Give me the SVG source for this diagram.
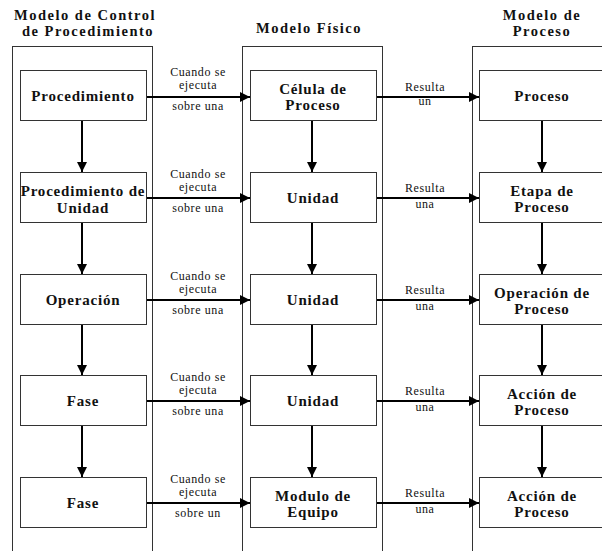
<svg xmlns="http://www.w3.org/2000/svg" width="602" height="551" viewBox="0 0 602 551">
<style>
.bg{fill:#fff}
.cont{fill:none;stroke:#333;stroke-width:1}
.box{fill:#fff;stroke:#333;stroke-width:1}
.title{font-family:'Liberation Serif','DejaVu Serif',serif;font-weight:bold;font-size:14.5px;letter-spacing:1.5px;fill:#111;text-anchor:middle}
.node{font-family:'Liberation Serif','DejaVu Serif',serif;font-weight:bold;font-size:15px;letter-spacing:0.8px;fill:#111;text-anchor:middle}
.lbl{font-family:'Liberation Serif','DejaVu Serif',serif;font-size:12px;letter-spacing:0.6px;fill:#111;text-anchor:middle}
.arr{stroke:#000;stroke-width:2;fill:none}
</style>
<defs>
<marker id="ah" viewBox="0 0 10 10" refX="10" refY="5" markerWidth="10" markerHeight="10" markerUnits="userSpaceOnUse" orient="auto">
<path d="M0,0 L10,5 L0,10 Z" fill="#000"/>
</marker>
</defs>
<rect class="bg" x="0" y="0" width="602" height="551"/>

<g id="containers">
<rect class="cont" x="12.5" y="46.5" width="140" height="520"/>
<rect class="cont" x="242.5" y="46.5" width="140" height="520"/>
<rect class="cont" x="472.5" y="46.5" width="140" height="520"/>
</g>

<g id="titles">
<text class="title" x="85" y="20">Modelo de Control</text>
<text class="title" x="88" y="36">de Procedimiento</text>
<text class="title" x="309" y="33">Modelo Físico</text>
<text class="title" x="542" y="20">Modelo de</text>
<text class="title" x="542" y="36">Proceso</text>
</g>

<g id="connectors">
<line class="arr" x1="82" y1="120" x2="82" y2="172" marker-end="url(#ah)"/>
<line class="arr" x1="82" y1="222" x2="82" y2="274" marker-end="url(#ah)"/>
<line class="arr" x1="82" y1="324" x2="82" y2="375" marker-end="url(#ah)"/>
<line class="arr" x1="82" y1="425" x2="82" y2="477" marker-end="url(#ah)"/>
<line class="arr" x1="312" y1="120" x2="312" y2="172" marker-end="url(#ah)"/>
<line class="arr" x1="312" y1="222" x2="312" y2="274" marker-end="url(#ah)"/>
<line class="arr" x1="312" y1="324" x2="312" y2="375" marker-end="url(#ah)"/>
<line class="arr" x1="312" y1="425" x2="312" y2="477" marker-end="url(#ah)"/>
<line class="arr" x1="542" y1="120" x2="542" y2="172" marker-end="url(#ah)"/>
<line class="arr" x1="542" y1="222" x2="542" y2="274" marker-end="url(#ah)"/>
<line class="arr" x1="542" y1="324" x2="542" y2="375" marker-end="url(#ah)"/>
<line class="arr" x1="542" y1="425" x2="542" y2="477" marker-end="url(#ah)"/>

<line class="arr" x1="146" y1="97" x2="250" y2="97" marker-end="url(#ah)"/>
<line class="arr" x1="146" y1="198" x2="250" y2="198" marker-end="url(#ah)"/>
<line class="arr" x1="146" y1="300" x2="250" y2="300" marker-end="url(#ah)"/>
<line class="arr" x1="146" y1="401" x2="250" y2="401" marker-end="url(#ah)"/>
<line class="arr" x1="146" y1="503" x2="250" y2="503" marker-end="url(#ah)"/>
<line class="arr" x1="377" y1="97" x2="479" y2="97" marker-end="url(#ah)"/>
<line class="arr" x1="377" y1="198" x2="479" y2="198" marker-end="url(#ah)"/>
<line class="arr" x1="377" y1="300" x2="479" y2="300" marker-end="url(#ah)"/>
<line class="arr" x1="377" y1="401" x2="479" y2="401" marker-end="url(#ah)"/>
<line class="arr" x1="377" y1="503" x2="479" y2="503" marker-end="url(#ah)"/>

<g id="labels-left">
<text class="lbl" x="198" y="76">Cuando se</text>
<text class="lbl" x="198" y="89">ejecuta</text>
<text class="lbl" x="198" y="110">sobre una</text>
<text class="lbl" x="198" y="178">Cuando se</text>
<text class="lbl" x="198" y="191">ejecuta</text>
<text class="lbl" x="198" y="212">sobre una</text>
<text class="lbl" x="198" y="280">Cuando se</text>
<text class="lbl" x="198" y="293">ejecuta</text>
<text class="lbl" x="198" y="314">sobre una</text>
<text class="lbl" x="198" y="381">Cuando se</text>
<text class="lbl" x="198" y="394">ejecuta</text>
<text class="lbl" x="198" y="415">sobre una</text>
<text class="lbl" x="198" y="483">Cuando se</text>
<text class="lbl" x="198" y="496">ejecuta</text>
<text class="lbl" x="198" y="517">sobre un</text>
</g>
<g id="labels-right">
<text class="lbl" x="425" y="91">Resulta</text>
<text class="lbl" x="425" y="105">un</text>
<text class="lbl" x="425" y="192">Resulta</text>
<text class="lbl" x="425" y="208">una</text>
<text class="lbl" x="425" y="294">Resulta</text>
<text class="lbl" x="425" y="310">una</text>
<text class="lbl" x="425" y="395">Resulta</text>
<text class="lbl" x="425" y="411">una</text>
<text class="lbl" x="425" y="497">Resulta</text>
<text class="lbl" x="425" y="513">una</text>
</g>
</g>

<g id="n-procedimiento"><rect class="box" x="20.5" y="70.5" width="126" height="50"/><text class="node" x="83" y="100.5">Procedimiento</text></g>
<g id="n-proc-unidad"><rect class="box" x="20.5" y="172.5" width="126" height="50"/><text class="node" x="83" y="196">Procedimiento de</text><text class="node" x="83" y="212.5">Unidad</text></g>
<g id="n-operacion"><rect class="box" x="20.5" y="274.5" width="126" height="50"/><text class="node" x="83" y="304.5">Operación</text></g>
<g id="n-fase1"><rect class="box" x="20.5" y="375.5" width="126" height="50"/><text class="node" x="83" y="405.5">Fase</text></g>
<g id="n-fase2"><rect class="box" x="20.5" y="477.5" width="126" height="50"/><text class="node" x="83" y="507.5">Fase</text></g>

<g id="n-celula"><rect class="box" x="250.5" y="70.5" width="126" height="50"/><text class="node" x="313" y="93.5">Célula de</text><text class="node" x="313" y="110">Proceso</text></g>
<g id="n-unidad1"><rect class="box" x="250.5" y="172.5" width="126" height="50"/><text class="node" x="313" y="202.5">Unidad</text></g>
<g id="n-unidad2"><rect class="box" x="250.5" y="274.5" width="126" height="50"/><text class="node" x="313" y="304.5">Unidad</text></g>
<g id="n-unidad3"><rect class="box" x="250.5" y="375.5" width="126" height="50"/><text class="node" x="313" y="405.5">Unidad</text></g>
<g id="n-modulo"><rect class="box" x="250.5" y="477.5" width="126" height="50"/><text class="node" x="313" y="500.5">Modulo de</text><text class="node" x="313" y="517">Equipo</text></g>

<g id="n-proceso"><rect class="box" x="479.5" y="70.5" width="130" height="50"/><text class="node" x="542" y="100.5">Proceso</text></g>
<g id="n-etapa"><rect class="box" x="479.5" y="172.5" width="130" height="50"/><text class="node" x="542" y="195.5">Etapa de</text><text class="node" x="542" y="212">Proceso</text></g>
<g id="n-operacion-proc"><rect class="box" x="479.5" y="274.5" width="130" height="50"/><text class="node" x="542" y="297.5">Operación de</text><text class="node" x="542" y="314">Proceso</text></g>
<g id="n-accion1"><rect class="box" x="479.5" y="375.5" width="130" height="50"/><text class="node" x="542" y="398.5">Acción de</text><text class="node" x="542" y="415">Proceso</text></g>
<g id="n-accion2"><rect class="box" x="479.5" y="477.5" width="130" height="50"/><text class="node" x="542" y="500.5">Acción de</text><text class="node" x="542" y="517">Proceso</text></g>
</svg>
